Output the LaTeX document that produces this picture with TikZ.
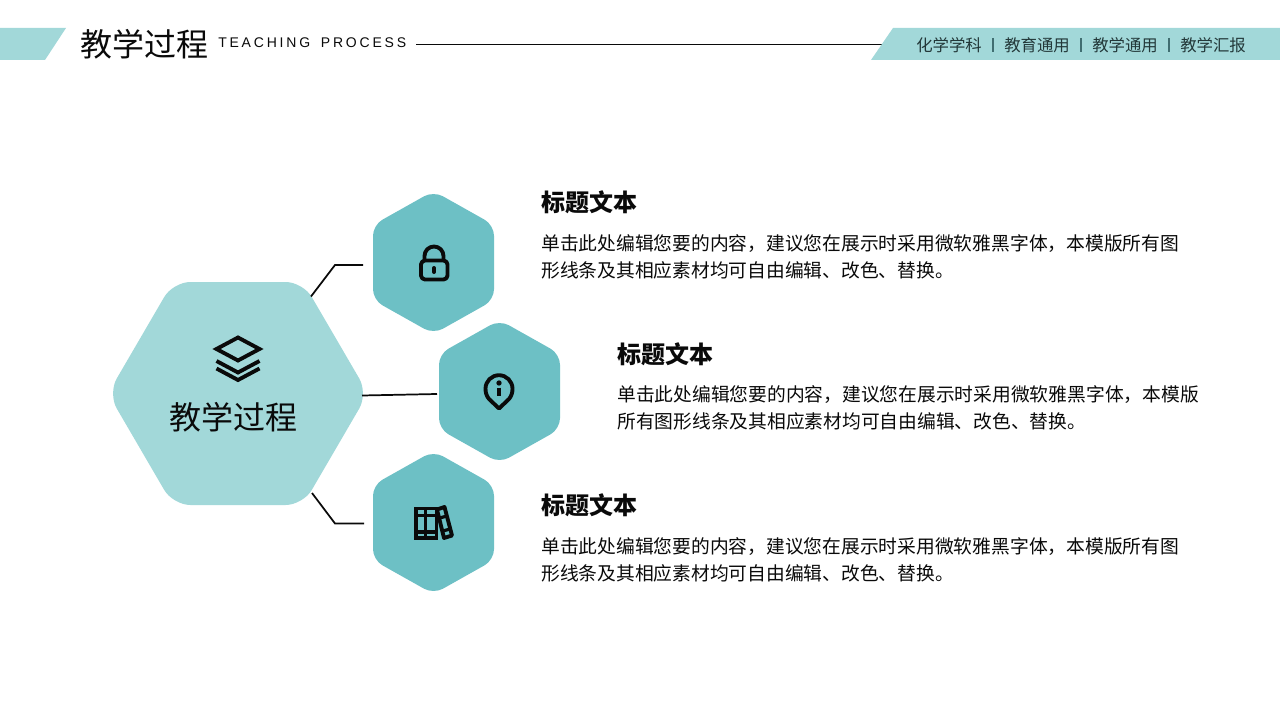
\documentclass[tikz,border=0pt]{standalone}
\usepackage{fontspec}
\setmainfont{Noto Sans CJK SC}
\newfontfamily\cjkfont{Noto Sans CJK SC}
\newfontfamily\latfont[LetterSpace=20,WordSpace=1.6]{Liberation Sans}
\definecolor{bandc}{HTML}{A2D8D9}
\definecolor{hexc}{HTML}{6DC0C5}
\definecolor{inkc}{HTML}{0A0A0A}
\tikzset{
  bigfont/.style={font=\cjkfont\fontsize{24pt}{28pt}\selectfont,text=inkc,inner sep=0pt},
  headfont/.style={font=\cjkfont\bfseries\fontsize{18pt}{22pt}\selectfont,text=inkc,inner sep=0pt,anchor=west},
  bodyfont/.style={font=\cjkfont\fontsize{14.07pt}{20.25pt}\selectfont,text=inkc,inner sep=0pt,anchor=north west,align=left},
  barfont/.style={font=\cjkfont\fontsize{12.3pt}{15pt}\selectfont,text=inkc!75!hexc,inner sep=0pt,anchor=west},
  barsep/.style={draw=inkc!45!hexc,line width=0.8pt},
  conn/.style={draw=inkc,line width=1.3pt,line join=miter},
  icon/.style={draw=inkc,line width=2.9pt,line join=round,line cap=round},
  thinicon/.style={draw=inkc,line width=2.4pt,line join=round},
  smallhex/.style={fill=hexc,rounded corners=8pt},
}
\begin{document}
\begin{tikzpicture}[x=0.75pt,y=-0.75pt]
\useasboundingbox (0,0) rectangle (1280,720);
\fill[white] (0,0) rectangle (1280,720);
% header
\fill[bandc] (0,28) -- (66,28) -- (45,60) -- (0,60) -- cycle;
\coordinate (ruleL) at (416,44);
\coordinate (ruleR) at (882,44);
\draw[draw=inkc,line width=0.6pt] (ruleL) -- (ruleR);
\fill[bandc] (893,28) -- (1280,28) -- (1280,60) -- (871,60) -- cycle;
\node[bigfont,anchor=west] (title) at (80,44) {教学过程};
\node[inner sep=0pt,anchor=west,text=inkc,font=\latfont\fontsize{10.5pt}{13pt}\selectfont] (sub) at (218,43) {TEACHING PROCESS};
\node[barfont] (t1) at (916,45) {化学学科};
\draw[barsep] (993,38) -- (993,52);
\node[barfont] (t2) at (1004,45) {教育通用};
\draw[barsep] (1081,38) -- (1081,52);
\node[barfont] (t3) at (1092,45) {教学通用};
\draw[barsep] (1169,38) -- (1169,52);
\node[barfont] (t4) at (1180,45) {教学汇报};
% hexagons
\fill[bandc,rounded corners=13pt] (108,393.5) -- (173,282) -- (303,282) -- (368,393.5) -- (303,505) -- (173,505) -- cycle;
\fill[smallhex] (433.5,191) -- (494,225) -- (494,300) -- (433.5,334) -- (373,300) -- (373,225) -- cycle;
\fill[smallhex] (499.5,320) -- (560,354) -- (560,429) -- (499.5,463) -- (439,429) -- (439,354) -- cycle;
\fill[smallhex] (433.5,451) -- (494,485) -- (494,560) -- (433.5,594) -- (373,560) -- (373,485) -- cycle;
\node[bigfont] (center) at (233,417) {教学过程};
% connectors
\coordinate (a1) at (311,296.5);
\coordinate (a2) at (335,265);
\coordinate (a3) at (363,265);
\draw[conn] (a1) -- (a2) -- (a3);
\coordinate (b1) at (362,395.5);
\coordinate (b2) at (437,394);
\draw[conn] (b1) -- (b2);
\coordinate (c1) at (312,493);
\coordinate (c2) at (335,523.5);
\coordinate (c3) at (364,523.5);
\draw[conn] (c1) -- (c2) -- (c3);
% layers icon
\draw[icon,line cap=butt,line join=miter] (238,337.5) -- (259.5,349) -- (238,360.5) -- (216.5,349) -- cycle;
\draw[icon,line cap=butt,line join=miter] (216.5,361) -- (238,372.5) -- (259.5,361);
\draw[icon,line cap=butt,line join=miter] (216.5,368.5) -- (238,380) -- (259.5,368.5);
% lock icon
\draw[icon,rounded corners=3pt] (421,260.5) rectangle (447.5,279.5);
\draw[icon,line cap=butt] (424.5,260) -- (424.5,256) arc[start angle=180,end angle=360,radius=9.5] -- (443.5,260);
\draw[icon,line width=3pt] (434,268) -- (434,272);
% pin icon
\draw[icon] (499,408.5) -- (489,399) .. controls (486.5,396) and (485.5,392.5) .. (485.5,388.7) arc[start angle=180,end angle=360,radius=13.5] .. controls (512.5,392.5) and (511.5,396) .. (509,399) -- cycle;
\fill[inkc] (499,383) circle (2pt);
\draw[icon,line cap=butt,line width=3pt] (499,387.5) -- (499,395.5);
% books icon
\draw[icon,line cap=butt,line join=miter] (416,508.5) rectangle (436.5,538);
\draw[thinicon] (425.5,508.5) -- (425.5,538);
\draw[thinicon] (416,515.5) -- (436.5,515.5) (416,532) -- (436.5,532);
\draw[icon,line join=round] (437,509.5) -- (444.5,507) -- (452,535.5) -- (444,538) -- cycle;
\draw[thinicon] (439.5,518) -- (447,516) (443,531) -- (450,529);
% text
\node[headfont] (h1) at (541,202) {标题文本};
\node[bodyfont] (b1t) at (541,234.5) {单击此处编辑您要的内容，建议您在展示时采用微软雅黑字体，本模版所有图\\形线条及其相应素材均可自由编辑、改色、替换。};
\node[headfont] (h2) at (617,354) {标题文本};
\node[bodyfont] (b2t) at (617,385.5) {单击此处编辑您要的内容，建议您在展示时采用微软雅黑字体，本模版\\所有图形线条及其相应素材均可自由编辑、改色、替换。};
\node[headfont] (h3) at (541,505) {标题文本};
\node[bodyfont] (b3t) at (541,537.5) {单击此处编辑您要的内容，建议您在展示时采用微软雅黑字体，本模版所有图\\形线条及其相应素材均可自由编辑、改色、替换。};
\end{tikzpicture}
\end{document}
